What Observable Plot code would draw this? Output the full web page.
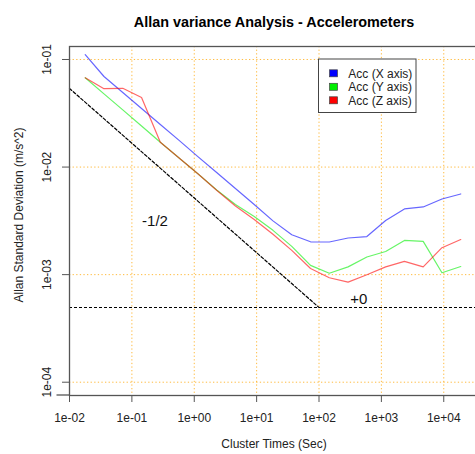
<!DOCTYPE html>
<html><head><meta charset="utf-8">
<script src="https://cdn.jsdelivr.net/npm/d3@7"></script>
<script src="https://cdn.jsdelivr.net/npm/@observablehq/plot@0.6"></script>
<style>html,body{margin:0;padding:0;background:#fff;overflow:hidden}</style>
</head><body><div id="chart"></div>
<script>
// ---- data ----
const clusterTimes = [0.01786, 0.03572, 0.07144, 0.1429, 0.2858, 0.5715, 1.143, 2.286, 4.572, 9.145, 18.29, 36.58, 73.16, 146.3, 292.6, 585.3, 1171, 2341, 4682, 9364, 18729];
const accX = [0.111, 0.0695, 0.0493, 0.0350, 0.0249, 0.0177, 0.0125, 0.00891, 0.00633, 0.00449, 0.00316, 0.00235, 0.00202, 0.00201, 0.00219, 0.00226, 0.00319, 0.00408, 0.00426, 0.00505, 0.00562];
const accY = [0.0676, 0.0479, 0.0340, 0.0241, 0.0170, 0.01215, 0.00866, 0.00613, 0.00449, 0.00347, 0.00258, 0.00183, 0.00122, 0.00103, 0.00118, 0.00146, 0.00164, 0.00208, 0.00204, 0.00104, 0.00119];
const accZ = [0.0676, 0.0535, 0.0540, 0.0443, 0.0170, 0.01215, 0.00866, 0.00609, 0.00435, 0.00326, 0.00237, 0.00168, 0.00114, 0.000936, 0.000852, 0.000998, 0.00118, 0.00133, 0.00118, 0.00178, 0.00212];
const seriesNames = ["Acc (X axis)", "Acc (Y axis)", "Acc (Z axis)"];
const seriesColors = ["#0000ff", "#00ee00", "#ff0000"];
const xTicks = [1e-2, 1e-1, 1e0, 1e1, 1e2, 1e3, 1e4];
const yTicks = [1e-4, 1e-3, 1e-2, 1e-1];
const slopeX = [0.01, 100];
const slopeY = [0.0538, 0.000495];
const flatLevel = 0.000495;
const annotText = ["-1/2", "+0"];
const annotX = [0.235, 435];
const annotY = [0.00314, 0.000597];
const titleText = "Allan variance Analysis - Accelerometers";
const xLabel = "Cluster Times (Sec)";
const yLabel = "Allan Standard Deviation (m/s^2)";

// ---- tables built from the arrays ----
const seriesValues = [accX, accY, accZ];
const rows = seriesNames.flatMap((name, s) => clusterTimes.map((t, i) => ({series: name, tau: t, dev: seriesValues[s][i]})));
const slopeLine = slopeX.map((x, i) => ({x, y: slopeY[i]}));
const annots = annotText.map((t, i) => ({text: t, x: annotX[i], y: annotY[i]}));
const fmt = d => { const e = Math.round(Math.log10(d)); return "1e" + (e < 0 ? "-" : "+") + String(Math.abs(e)).padStart(2, "0"); };

const font = "'Liberation Sans', Arial, Helvetica, sans-serif";
const chart = Plot.plot({
  width: 475, height: 454,
  marginLeft: 69, marginRight: -3, marginTop: 46, marginBottom: 59,
  style: {fontFamily: font, fontSize: "12px", background: "#fff", color: "#222", overflow: "visible"},
  x: {type: "log", domain: [0.01, Math.pow(10, 4.557)]},
  y: {type: "log", domain: [Math.pow(10, -4.1236), Math.pow(10, -0.8792)]},
  color: {domain: seriesNames, range: seriesColors},
  marks: [
    Plot.ruleX(xTicks, {stroke: "#FFA500", strokeOpacity: 0.75, strokeDasharray: "1.3,2.3", strokeWidth: 1}),
    Plot.ruleY(yTicks, {stroke: "#FFA500", strokeOpacity: 0.75, strokeDasharray: "1.3,2.3", strokeWidth: 1}),
    Plot.ruleY([flatLevel], {stroke: "#000", strokeDasharray: "3,2", strokeWidth: 1.2}),
    Plot.line(slopeLine, {x: "x", y: "y", stroke: "#000", strokeDasharray: "3,2", strokeWidth: 1.2}),
    Plot.line(rows, {x: "tau", y: "dev", z: "series", stroke: "series", strokeWidth: 1.2, strokeOpacity: 0.6}),
    Plot.frame({stroke: "#555", strokeWidth: 1.3}),
    Plot.axisX({ticks: xTicks, tickFormat: fmt, tickSize: 7, tickPadding: 10.5, label: null, stroke: "#555"}),
    Plot.axisY({ticks: yTicks, tickFormat: () => "", tickSize: 7, label: null, stroke: "#555"}),
    Plot.text(yTicks, {y: d => d, text: fmt, frameAnchor: "left", textAnchor: "middle", dx: -22, rotate: -90, fill: "#222"}),
    Plot.text([titleText], {frameAnchor: "top", dy: -29.5, fontWeight: "bold", fontSize: 14.4, fill: "#000"}),
    Plot.text([xLabel], {frameAnchor: "bottom", dy: 52, fill: "#222"}),
    Plot.text([yLabel], {frameAnchor: "left", textAnchor: "middle", dx: -50, dy: -6, rotate: -90, fill: "#222"}),
    Plot.text(annots, {x: "x", y: "y", text: "text", fontSize: 15, fill: "#111"})
  ]
});
document.getElementById("chart").appendChild(chart);

const svg = d3.select(chart);
// short extension of the bottom box line to the left (as in the reference)
const yBottom = chart.scale("y").range[0];
const xLeft = chart.scale("x").range[0];
svg.append("line").attr("x1", xLeft - 12.5).attr("x2", xLeft).attr("y1", yBottom).attr("y2", yBottom)
  .attr("stroke", "#555").attr("stroke-width", 1.3);

// ---- legend (white box, top right) ----
const lg = svg.append("g").attr("font-family", font).attr("font-size", 12).attr("text-anchor", "start");
lg.append("rect").attr("x", 318.5).attr("y", 59).attr("width", 97.5).attr("height", 53.5)
  .attr("fill", "#fff").attr("stroke", "#444").attr("stroke-width", 1);
seriesNames.forEach((name, i) => {
  const cy = 73.3 + i * 13.5;
  lg.append("rect").attr("x", 329.5).attr("y", cy - 3.5).attr("width", 8).attr("height", 7)
    .attr("fill", seriesColors[i]).attr("stroke", "#444").attr("stroke-width", 0.7);
  lg.append("text").attr("x", 348.3).attr("y", cy).attr("dy", "0.36em").attr("fill", "#222").text(name);
});
</script>
</body></html>
